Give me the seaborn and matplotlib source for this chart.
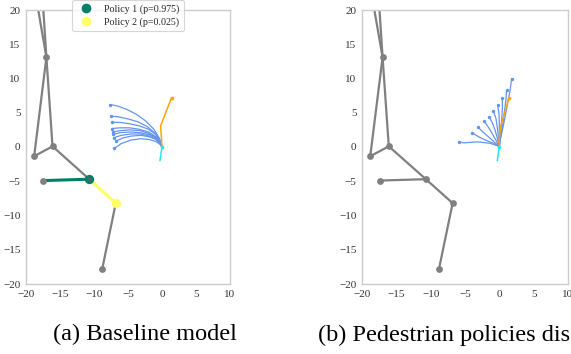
import matplotlib
matplotlib.use("Agg")
import matplotlib.pyplot as plt
import seaborn as sns
import pandas as pd
from matplotlib.lines import Line2D

# ---------------- data ----------------
# road graph nodes
node_names = ["topA", "topB", "n13", "n0", "nm1", "nmid", "nleft", "nright", "nbottom"]
node_x = [-18.2, -17.45, -17.0, -16.1, -18.8, -10.7, -17.45, -6.8, -8.8]
node_y = [20.0, 20.0, 13.1, 0.1, -1.35, -4.7, -4.9, -8.2, -17.85]
shown_nodes = ["n13", "n0", "nm1", "nmid", "nleft", "nright", "nbottom"]
edges = [("topA", "n13"), ("topB", "n13"), ("n13", "n0"), ("n13", "nm1"),
         ("nm1", "n0"), ("n0", "nmid"), ("nmid", "nleft"), ("nmid", "nright"),
         ("nright", "nbottom")]
policy_edges = [("nmid", "nleft"), ("nmid", "nright")]
policy_nodes = ["nmid", "nright"]
policy_labels = ["Policy 1 (p=0.975)", "Policy 2 (p=0.025)"]

# predicted trajectories, panel (a)
traj_a_x = [
    [-7.6, -6.6, -5.2, -3.8, -2.4, -1.2, -0.4, 0.0],
    [-7.5, -6.4, -5.0, -3.6, -2.2, -1.0, -0.3, 0.0],
    [-7.4, -6.2, -4.8, -3.4, -2.0, -0.9, -0.3, 0.0],
    [-7.3, -6.2, -4.8, -3.4, -2.0, -0.9, -0.3, 0.0],
    [-7.25, -6.1, -4.7, -3.3, -2.0, -0.9, -0.3, 0.0],
    [-7.2, -6.1, -4.7, -3.3, -1.9, -0.9, -0.3, 0.0],
    [-7.1, -6.0, -4.6, -3.2, -1.9, -0.9, -0.3, 0.0],
    [-6.8, -5.8, -4.5, -3.1, -1.9, -0.9, -0.3, 0.0],
    [-7.0, -6.0, -4.6, -3.2, -1.9, -0.9, -0.3, 0.0],
]
traj_a_y = [
    [6.2, 6.0, 5.5, 4.8, 3.8, 2.6, 1.3, 0.0],
    [4.5, 4.4, 4.1, 3.7, 3.0, 2.0, 1.0, 0.0],
    [3.6, 3.6, 3.4, 3.1, 2.6, 1.8, 0.9, 0.0],
    [2.7, 2.8, 2.8, 2.6, 2.2, 1.5, 0.8, 0.0],
    [2.2, 2.4, 2.5, 2.4, 2.0, 1.4, 0.7, 0.0],
    [1.85, 2.1, 2.2, 2.1, 1.8, 1.3, 0.6, 0.0],
    [1.35, 1.7, 1.9, 1.9, 1.6, 1.2, 0.6, 0.0],
    [0.85, 1.3, 1.6, 1.7, 1.5, 1.1, 0.5, 0.0],
    [-0.2, 0.5, 1.0, 1.2, 1.1, 0.8, 0.4, 0.0],
]
# predicted trajectories, panel (b)
traj_b_x = [
    [-5.9, -5.25, -3.2, -1.4, -0.3, 0.0],
    [-4.0, -3.2, -2.0, -0.9, -0.2, 0.0],
    [-3.1, -2.4, -1.5, -0.7, -0.2, 0.0],
    [-2.2, -1.6, -1.0, -0.5, -0.15, 0.0],
    [-1.5, -1.0, -0.6, -0.3, -0.1, 0.0],
    [-0.87, -0.5, -0.3, -0.15, -0.05, 0.0],
    [-0.25, -0.05, 0.0, 0.0, 0.0, 0.0],
    [0.43, 0.45, 0.35, 0.2, 0.05, 0.0],
    [1.06, 0.95, 0.7, 0.4, 0.1, 0.0],
    [1.8, 1.55, 1.1, 0.6, 0.15, 0.0],
]
traj_b_y = [
    [0.8, 0.6, 0.75, 0.55, 0.2, 0.0],
    [2.1, 1.6, 1.0, 0.55, 0.2, 0.0],
    [2.9, 2.2, 1.4, 0.7, 0.25, 0.0],
    [3.75, 2.9, 1.9, 1.0, 0.35, 0.0],
    [4.4, 3.5, 2.4, 1.3, 0.45, 0.0],
    [5.25, 4.2, 2.9, 1.6, 0.55, 0.0],
    [6.1, 4.9, 3.4, 1.9, 0.65, 0.0],
    [7.1, 5.8, 4.0, 2.2, 0.8, 0.0],
    [8.3, 6.8, 4.8, 2.7, 0.9, 0.0],
    [10.0, 8.2, 5.8, 3.2, 1.1, 0.0],
]
# ground-truth future (orange) and past (cyan)
future_a_x = [0.0, -0.2, 1.4]
future_a_y = [0.0, 3.1, 7.2]
future_b_x = [0.0, -0.05, 0.2, 1.4]
future_b_y = [0.0, 1.0, 3.0, 7.2]
past_x = [0.0, -0.3]
past_y = [0.0, -2.0]

xticks = [-20, -15, -10, -5, 0, 5, 10]
yticks = [-20, -15, -10, -5, 0, 5, 10, 15, 20]
captions = ["(a) Baseline model", "(b) Pedestrian policies dis"]

# ---------------- style ----------------
sns.set_theme(style="white")
plt.rcParams["font.family"] = ["Liberation Serif", "DejaVu Serif"]
plt.rcParams["axes.unicode_minus"] = True

GRAY = "#808080"
BLUE = "#6495ED"
ORANGE = "#FFA500"
CYAN = "#22E5F0"
POLICY_COLORS = ["#008066", "#FFFF66"]

W, H = 571, 354
fig = plt.figure(figsize=(W / 100, H / 100), dpi=100)
axes = [
    fig.add_axes([26 / W, (H - 284) / H, 204 / W, 274 / H]),
    fig.add_axes([362 / W, (H - 284) / H, 206 / W, 274 / H]),
]
pos = dict(zip(node_names, zip(node_x, node_y)))


def line(ax, xs, ys, color, lw, z, alpha=1.0):
    sns.lineplot(x=list(xs), y=list(ys), sort=False, estimator=None, ax=ax,
                 color=color, lw=lw, zorder=z, alpha=alpha)


for i, ax in enumerate(axes):
    with_policy = (i == 0)
    # road graph
    for a, b in edges:
        col, lw, z = GRAY, 1.6, 2
        if with_policy and (a, b) in policy_edges:
            k = policy_edges.index((a, b))
            col, lw, z = POLICY_COLORS[k], 2.2, 3
        line(ax, [pos[a][0], pos[b][0]], [pos[a][1], pos[b][1]], col, lw, z)
    sx = [pos[n][0] for n in shown_nodes]
    sy = [pos[n][1] for n in shown_nodes]
    sns.scatterplot(x=sx, y=sy, ax=ax, color=GRAY, s=24, linewidth=0, zorder=4)
    if with_policy:
        for k, n in enumerate(policy_nodes):
            sns.scatterplot(x=[pos[n][0]], y=[pos[n][1]], ax=ax,
                            color=POLICY_COLORS[k], s=45, linewidth=0, zorder=5)
        sns.scatterplot(x=[pos["nmid"][0]], y=[pos["nmid"][1]], ax=ax,
                        color="#3f6f60", s=12, linewidth=0, zorder=6)

    # trajectories
    tx = traj_a_x if with_policy else traj_b_x
    ty = traj_a_y if with_policy else traj_b_y
    for xs, ys in zip(tx, ty):
        line(ax, xs, ys, BLUE, 0.9, 6)
    sns.scatterplot(x=[xs[0] for xs in tx], y=[ys[0] for ys in ty], ax=ax,
                    color=BLUE, s=6, linewidth=0, zorder=7)
    fx = future_a_x if with_policy else future_b_x
    fy = future_a_y if with_policy else future_b_y
    line(ax, fx, fy, ORANGE, 1.1, 8)
    sns.scatterplot(x=[fx[-1]], y=[fy[-1]], ax=ax, color=ORANGE, s=7,
                    linewidth=0, zorder=8)
    line(ax, past_x, past_y, CYAN, 1.1, 8)
    sns.scatterplot(x=[past_x[0]], y=[past_y[0]], ax=ax, color=CYAN, s=7,
                    linewidth=0, zorder=8)

    ax.set_xlim(-20, 10)
    ax.set_ylim(-20, 20)
    ax.set_xticks(xticks)
    ax.set_yticks(yticks)
    ax.tick_params(axis="both", labelsize=8, length=0, pad=4, colors="#333333")
    for sp in ax.spines.values():
        sp.set_color("#cccccc")
        sp.set_linewidth(1.0)
    ax.set_xlabel("")
    ax.set_ylabel("")

handles = [Line2D([], [], marker="o", linestyle="", markersize=6,
                  markerfacecolor=c, markeredgecolor=c) for c in POLICY_COLORS]
leg = axes[0].legend(handles, policy_labels, loc="upper center",
                     bbox_to_anchor=(0.5, 1.035), borderaxespad=0, fontsize=7.2,
                     frameon=True, handletextpad=0.8, borderpad=0.4,
                     labelspacing=0.3)
leg.get_frame().set_edgecolor("#cccccc")
leg.get_frame().set_linewidth(0.8)
leg.set_zorder(10)

fig.text(144.5 / W, (H - 340.5) / H, captions[0], ha="center", va="baseline",
         fontsize=17.5, color="black")
fig.text(318 / W, (H - 340.5) / H, captions[1], ha="left", va="baseline",
         fontsize=17.5, color="black")

fig.savefig("out.png", dpi=100)
